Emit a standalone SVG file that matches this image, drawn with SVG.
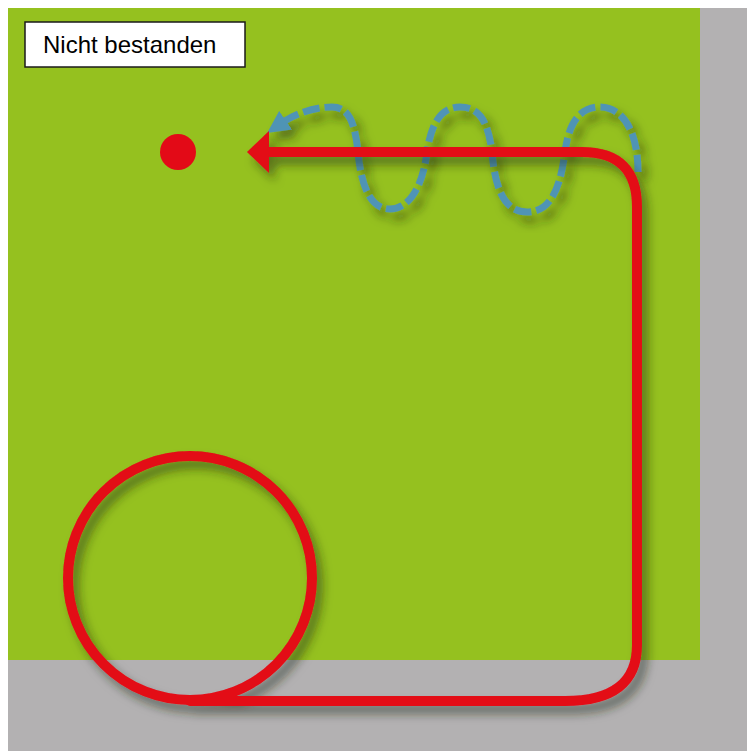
<svg xmlns="http://www.w3.org/2000/svg" width="747" height="751" viewBox="0 0 747 751">
  <style>
    .red { fill: none; stroke: #E30A17; stroke-width: 10; stroke-linecap: round; stroke-linejoin: round; }
    .blue { fill: none; stroke: #4F94B5; stroke-width: 7; stroke-dasharray: 17 5; }
    .label { font-family: "Liberation Sans", Arial, sans-serif; font-size: 24px; fill: #000; }
  </style>
  <defs>
    <filter id="shadow" x="-20%" y="-20%" width="140%" height="140%">
      <feDropShadow dx="6" dy="8" stdDeviation="5" flood-color="#1e2a10" flood-opacity="0.5"/>
    </filter>
    <marker id="blueHead" viewBox="0 0 10 10" refX="3" refY="5" markerWidth="3.2" markerHeight="3.2" orient="auto" markerUnits="strokeWidth">
      <path d="M0,0 L10,5 L0,10 z" fill="#4F94B5"/>
    </marker>
  </defs>

  <rect x="0" y="0" width="747" height="751" fill="#ffffff"/>
  <g id="background">
    <rect x="8" y="8" width="739" height="743" fill="#B3B1B2"/>
    <rect x="8" y="8" width="692" height="652" fill="#95C11F"/>
  </g>

  <g id="label">
    <rect x="25" y="22" width="220" height="45" fill="#ffffff" stroke="#1a1a1a" stroke-width="1.5"/>
    <text class="label" x="43" y="53">Nicht bestanden</text>
  </g>

  <g id="dot">
    <circle cx="178" cy="152" r="18" fill="#E30A17"/>
  </g>

  <g id="connectors">
    <g filter="url(#shadow)">
      <path class="blue" marker-end="url(#blueHead)" d="M 638 172 C 638 130, 622 107, 600 107 C 577 107, 568 128, 565 152 C 560 190, 550 212, 527 212 C 505 212, 495 190, 492 152 C 488 122, 480 107, 460 107 C 440 107, 431 125, 427 152 C 423 185, 410 209, 390 209 C 370 209, 361 185, 358 152 C 355 125, 350 107, 332 107 C 312 107, 293 115, 280 124"/>
    </g>
    <g filter="url(#shadow)">
      <path class="red" d="M 266 152 L 582 152 Q 637 152, 637 207 L 637 645 Q 637 701, 565 701 L 190 701"/>
      <circle class="red" cx="190" cy="578" r="122"/>
      <path d="M 247 152 L 269 131 L 269 173 Z" fill="#E30A17"/>
    </g>
  </g>
</svg>
